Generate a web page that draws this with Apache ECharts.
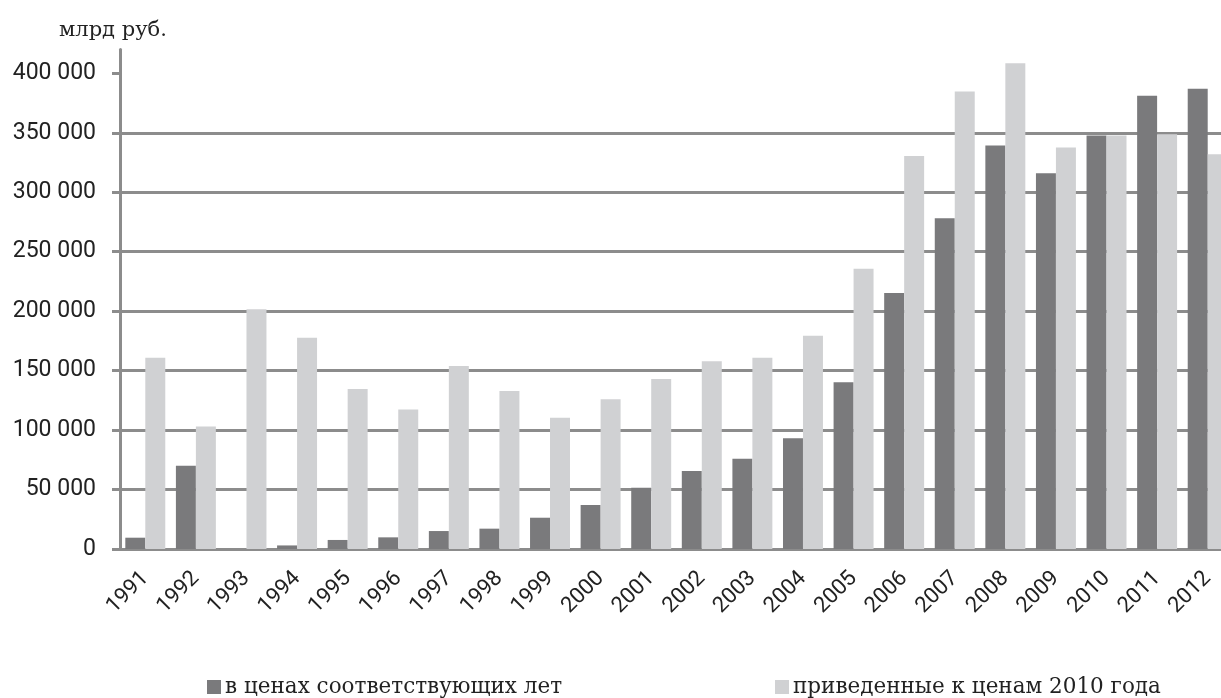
<!DOCTYPE html>
<html>
<head>
<meta charset="utf-8">
<script src="https://cdn.jsdelivr.net/npm/echarts@6/dist/echarts.min.js"></script>
<style>
  html, body { margin: 0; padding: 0; background: #fff; }
  #chart { width: 1221px; height: 698px; }
</style>
</head>
<body>
<div id="chart"></div>
<script>
  // годы
  const years = ['1991', '1992', '1993', '1994', '1995', '1996', '1997', '1998', '1999', '2000', '2001',
    '2002', '2003', '2004', '2005', '2006', '2007', '2008', '2009', '2010', '2011', '2012'];

  // в ценах соответствующих лет
  const nominal = [9500, 70000, null, 3000, 7600, 9800, 15100, 17100, 26300, 37000, 51600,
    65600, 75900, 93100, 140200, 215300, 278100, 339200, 315900, 347600, 381200, 387100];

  // приведенные к ценам 2010 года
  const real2010 = [160900, 102900, 201500, 177700, 134500, 117200, 153900, 132900, 110400, 125900, 143000,
    157800, 160900, 179400, 235700, 330500, 384600, 408400, 337500, 347600, 348700, 331900];

  const yTicks = [0, 50000, 100000, 150000, 200000, 250000, 300000, 350000, 400000];

  const unitLabel = 'млрд руб.';
  const seriesNames = ['в ценах соответствующих лет', 'приведенные к ценам 2010 года'];

  const serif = '"DejaVu Serif", serif';
  const sans = 'Roboto, sans-serif';
  const gridGrey = '#8c8c8c';

  const chart = echarts.init(document.getElementById('chart'));

  const option = {
    animation: false,
    backgroundColor: '#fff',
    title: {
      text: unitLabel,
      left: 54,
      top: 15,
      textStyle: { fontFamily: serif, fontSize: 21, fontWeight: 'normal', color: '#222' },
    },
    legend: [
      {
        data: [seriesNames[0]],
        left: 202,
        top: 671,
        icon: 'rect',
        itemWidth: 14,
        itemHeight: 14,
        textStyle: { fontFamily: serif, fontSize: 21.5, color: '#222', padding: [0, 0, 0, -1] },
      },
      {
        data: [seriesNames[1]],
        left: 770,
        top: 671,
        icon: 'rect',
        itemWidth: 14,
        itemHeight: 14,
        textStyle: { fontFamily: serif, fontSize: 21.5, color: '#222', padding: [0, 0, 0, -1] },
      },
    ],
    grid: { left: 120, width: 1113, top: 49.5, bottom: 149, outerBoundsMode: 'none' },
    xAxis: {
      type: 'category',
      data: years,
      axisLine: { show: true, lineStyle: { color: gridGrey, width: 3 } },
      axisTick: { show: false },
      axisLabel: {
        rotate: 45,
        margin: 26,
        fontFamily: sans,
        fontSize: 22,
        color: '#222',
        interval: 0,
      },
    },
    yAxis: {
      type: 'value',
      min: 0,
      max: 420000,
      interval: 50000,
      axisLine: { show: true, lineStyle: { color: gridGrey, width: 3 } },
      axisTick: {
        show: true,
        inside: false,
        length: 8,
        lineStyle: { color: gridGrey, width: 3 },
        customValues: yTicks,
      },
      axisLabel: {
        margin: 24,
        fontFamily: sans,
        fontSize: 23,
        color: '#222',
        customValues: yTicks,
        formatter: (v) => String(v).replace(/\B(?=(\d{3})+(?!\d))/g, ' '),
      },
      splitLine: {
        show: true,
        showMinLine: false,
        showMaxLine: false,
        lineStyle: { color: gridGrey, width: 3 },
      },
    },
    series: [
      {
        name: seriesNames[0],
        type: 'bar',
        data: nominal,
        barGap: '0%',
        barCategoryGap: '21%',
        itemStyle: { color: '#7a7a7c' },
      },
      {
        name: seriesNames[1],
        type: 'bar',
        data: real2010,
        barGap: '0%',
        barCategoryGap: '21%',
        itemStyle: { color: '#d0d1d3' },
      },
    ],
  };

  chart.setOption(option);
</script>
</body>
</html>
